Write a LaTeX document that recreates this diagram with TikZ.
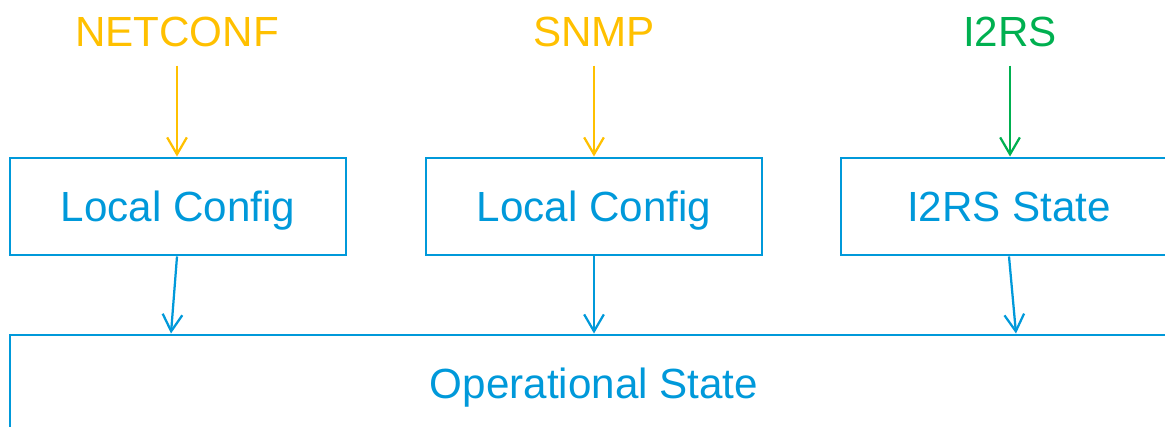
\documentclass[tikz,border=0pt]{standalone}
\usepackage{fontspec}
\setmainfont{Liberation Sans}
\usepackage{xcolor}
\usepackage{tikz}
\usetikzlibrary{arrows.meta}
\definecolor{boxblue}{RGB}{0,153,218}
\definecolor{cfgorange}{RGB}{255,192,0}
\definecolor{irsgreen}{RGB}{0,176,80}
\tikzset{ store_box/.style = {rectangle, draw=boxblue, line width=2.1pt, text=boxblue, minimum width=8.4cm, minimum height=2.425cm, text height=20.7pt, text depth=0pt, font=\fontsize{30}{36}\selectfont} }
\tikzset{ proto_lbl/.style = {inner sep=0pt, anchor=base, font=\fontsize{30}{36}\selectfont} }
\tikzset{ feed/.style = {line width=1.6pt, -{Straight Barb[length=12pt, width=14pt, line width=1.6pt]}} }

\begin{document}
\begin{tikzpicture}
            \useasboundingbox (0,0) rectangle (29.125,10.65);
            \clip (0,0) rectangle (29.125,10.65);
            \node [style=proto_lbl, text=cfgorange] (netconf) at (4.425, 9.475) {NETCONF};
            \node [style=proto_lbl, text=cfgorange] (snmp) at (14.85, 9.475) {SNMP};
            \node [style=proto_lbl, text=irsgreen] (irs) at (25.25, 9.475) {I2RS};
            \node [style=store_box] (cfg1) at (4.45, 5.4875) {Local Config};
            \node [style=store_box] (cfg2) at (14.85, 5.4875) {Local Config};
            \node [style=store_box] (state) at (25.225, 5.4875) {I2RS State};
            \node [style=store_box, minimum width=29.2cm] (op) at (14.85, 1.0625) {Operational State};
            \draw [feed, draw=cfgorange] ([yshift=-0.45cm]netconf.south) to (netconf.south |- cfg1.north);
            \draw [feed, draw=cfgorange] ([yshift=-0.45cm]snmp.south) to (snmp.south |- cfg2.north);
            \draw [feed, draw=irsgreen] ([yshift=-0.45cm]irs.south) to (irs.south |- state.north);
            \draw [feed, draw=boxblue] ([xshift=-0.025cm]cfg1.south) to ([xshift=-0.175cm]cfg1.south |- op.north);
            \draw [feed, draw=boxblue] (cfg2.south) to (cfg2.south |- op.north);
            \draw [feed, draw=boxblue] (state.south) to ([xshift=0.175cm]state.south |- op.north);
    \end{tikzpicture}
\end{document}
